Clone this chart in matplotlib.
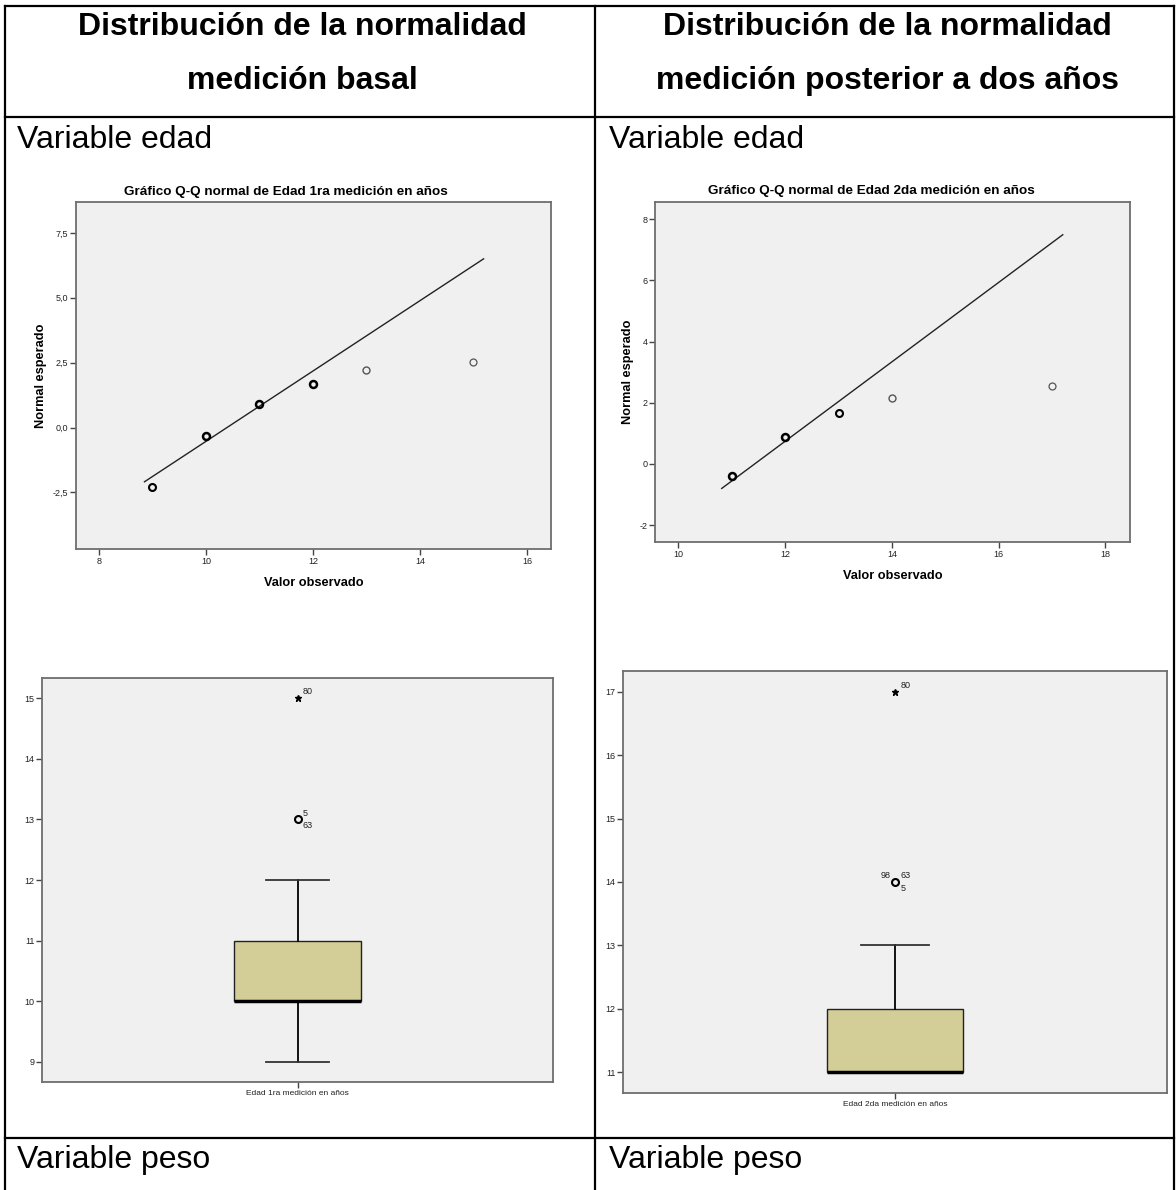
import numpy as np
import matplotlib
matplotlib.use('Agg')
import matplotlib.pyplot as plt
from matplotlib.lines import Line2D

plt.rcParams['font.family'] = ['Liberation Sans', 'DejaVu Sans']
plt.rcParams['axes.unicode_minus'] = False

# Q-Q normal, edad 1ra medición
qq1_obs = [9, 10, 11, 12, 13, 15]
qq1_esp = [-2.31, -0.32, 0.92, 1.68, 2.20, 2.54]
qq1_line_x = [8.85, 15.19]
qq1_line_y = [-2.09, 6.50]
qq1_yticks = [-2.5, 0.0, 2.5, 5.0, 7.5]
qq1_ylabels = ['-2,5', '0,0', '2,5', '5,0', '7,5']
qq1_xticks = [8, 10, 12, 14, 16]

# Q-Q normal, edad 2da medición
qq2_obs = [11, 12, 13, 14, 17]
qq2_esp = [-0.39, 0.87, 1.68, 2.14, 2.55]
qq2_line_x = [10.81, 17.20]
qq2_line_y = [-0.80, 7.49]
qq2_yticks = [-2, 0, 2, 4, 6, 8]
qq2_xticks = [10, 12, 14, 16, 18]

# cajas: edad 1ra y 2da medición
bp1 = dict(whislo=9, q1=10, med=10, q3=11, whishi=12)
bp1_out_circ = [13]
bp1_out_star = [15]
bp2 = dict(whislo=11, q1=11, med=11, q3=12, whishi=13)
bp2_out_circ = [14]
bp2_out_star = [17]

W, H = 1176, 1190
fig = plt.figure(figsize=(W / 100, H / 100), dpi=100)
fig.patch.set_facecolor('white')


def rect(x0, y0, x1, y1):
    return [x0 / W, 1 - y1 / H, (x1 - x0) / W, (y1 - y0) / H]


def hline(y, x0, x1):
    fig.add_artist(Line2D([x0 / W, x1 / W], [1 - y / H, 1 - y / H],
                          color='black', lw=1.6, transform=fig.transFigure))


def vline(x, y0, y1):
    fig.add_artist(Line2D([x / W, x / W], [1 - y0 / H, 1 - y1 / H],
                          color='black', lw=1.6, transform=fig.transFigure))


# tabla
hline(6, 5, 1174)
hline(117, 5, 1174)
hline(1138, 5, 1174)
vline(5, 6, H)
vline(595, 6, H)
vline(1174, 6, H)

hdr = dict(fontsize=23, fontweight='bold', ha='center', va='baseline')
fig.text(302 / W, 1 - 35 / H, 'Distribución de la normalidad', **hdr)
fig.text(302 / W, 1 - 89 / H, 'medición basal', **hdr)
fig.text(887 / W, 1 - 35 / H, 'Distribución de la normalidad', **hdr)
fig.text(887 / W, 1 - 89 / H, 'medición posterior a dos años', **hdr)

cell = dict(fontsize=23, ha='left', va='baseline')
fig.text(17 / W, 1 - 148 / H, 'Variable edad', **cell)
fig.text(609 / W, 1 - 148 / H, 'Variable edad', **cell)
fig.text(17 / W, 1 - 1168 / H, 'Variable peso', **cell)
fig.text(609 / W, 1 - 1168 / H, 'Variable peso', **cell)


def estilo(ax):
    ax.set_facecolor('#f0f0f0')
    for s in ax.spines.values():
        s.set_color('#6e6e6e')
        s.set_linewidth(1.3)
    ax.tick_params(direction='out', length=4, width=1, color='#444444',
                   labelsize=6.5, labelcolor='#222222', pad=1.5)


def qq(ax, obs, esp, lx, ly, xt, yt, ylab, xlim, ylim, lws):
    estilo(ax)
    ax.plot(lx, ly, color='#222222', lw=1.0)
    for x, y, lw in zip(obs, esp, lws):
        c = 'black' if lw > 1 else '#555555'
        ax.plot(x, y, 'o', mfc='none', mec=c, mew=lw, ms=5)
    ax.set_xlim(*xlim)
    ax.set_ylim(*ylim)
    ax.set_xticks(xt)
    ax.set_yticks(yt)
    if ylab is not None:
        ax.set_yticklabels(ylab)
    ax.set_xlabel('Valor observado', fontsize=9.2, fontweight='bold', labelpad=8)
    ax.set_ylabel('Normal esperado', fontsize=9.2, fontweight='bold', labelpad=4)


ax1 = fig.add_axes(rect(76, 202, 551, 549))
qq(ax1, qq1_obs, qq1_esp, qq1_line_x, qq1_line_y, qq1_xticks, qq1_yticks,
   qq1_ylabels, (7.57, 16.45), (-4.68, 8.69), [1.5, 1.8, 1.8, 1.8, 1.0, 0.9])
fig.text(286 / W, 1 - 192 / H, 'Gráfico Q-Q normal de Edad 1ra medición en años',
         fontsize=9.7, fontweight='bold', ha='center', va='center')

ax2 = fig.add_axes(rect(655, 202, 1130, 542))
qq(ax2, qq2_obs, qq2_esp, qq2_line_x, qq2_line_y, qq2_xticks, qq2_yticks,
   None, (9.56, 18.46), (-2.55, 8.56), [1.8, 1.8, 1.5, 1.0, 0.9])
fig.text(871 / W, 1 - 191 / H, 'Gráfico Q-Q normal de Edad 2da medición en años',
         fontsize=9.7, fontweight='bold', ha='center', va='center')


def caja(ax, st, circ, star, ylim, yt, xlabel):
    estilo(ax)
    ax.bxp([dict(st, fliers=[])], positions=[1], widths=0.5, capwidths=0.25,
           showfliers=False, patch_artist=True,
           boxprops=dict(facecolor='#d3ce97', edgecolor='#222222', lw=1.0),
           medianprops=dict(color='black', lw=2.5, solid_capstyle='butt'),
           whiskerprops=dict(color='black', lw=1.3),
           capprops=dict(color='#333333', lw=1.3))
    ax.plot([1] * len(circ), circ, 'o', mfc='none', mec='black', mew=1.5, ms=5)
    ax.plot([1] * len(star), star, '*', color='black', ms=5)
    ax.set_xlim(0, 2)
    ax.set_ylim(*ylim)
    ax.set_yticks(yt)
    ax.set_xticks([1])
    ax.set_xticklabels([xlabel], fontsize=6)


ax3 = fig.add_axes(rect(42, 678, 553, 1082))
caja(ax3, bp1, bp1_out_circ, bp1_out_star, (8.67, 15.33), range(9, 16),
     'Edad 1ra medición en años')
lab = dict(fontsize=6.5, color='#222222')
ax3.text(1.02, 15.03, '80', ha='left', va='bottom', **lab)
ax3.text(1.02, 13.03, '5', ha='left', va='bottom', **lab)
ax3.text(1.02, 12.97, '63', ha='left', va='top', **lab)

ax4 = fig.add_axes(rect(623, 671, 1167, 1093))
caja(ax4, bp2, bp2_out_circ, bp2_out_star, (10.67, 17.33), range(11, 18),
     'Edad 2da medición en años')
ax4.text(1.02, 17.03, '80', ha='left', va='bottom', **lab)
ax4.text(0.985, 14.03, '98', ha='right', va='bottom', **lab)
ax4.text(1.02, 14.03, '63', ha='left', va='bottom', **lab)
ax4.text(1.02, 13.97, '5', ha='left', va='top', **lab)

fig.savefig('out.png', dpi=100)
